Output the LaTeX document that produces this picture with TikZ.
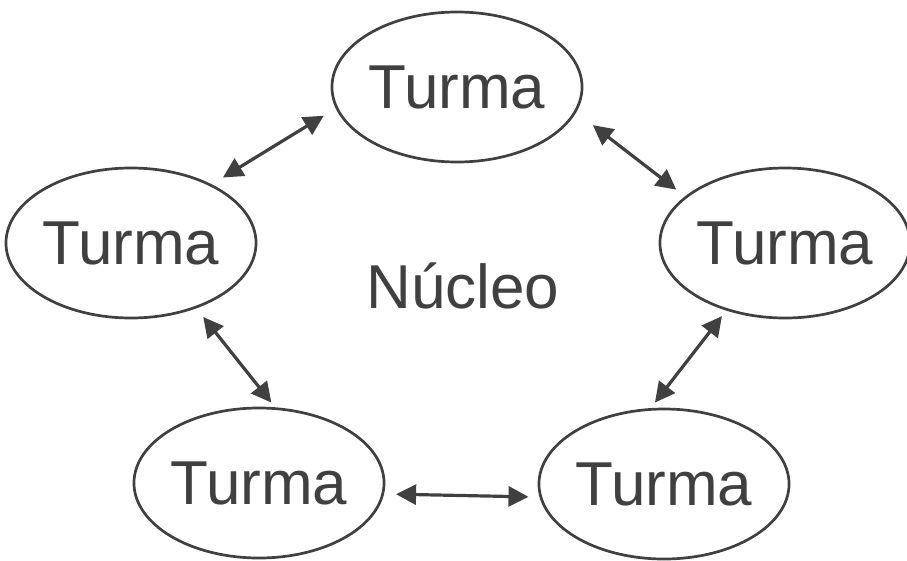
\documentclass[tikz,border=0pt]{standalone}
\usepackage{fontspec}
\setmainfont{Liberation Sans}
\usetikzlibrary{shapes.geometric,arrows.meta}
\definecolor{ink}{HTML}{404040}
\tikzset{
  turma/.style={ellipse, draw=ink, line width=2.7pt, inner sep=0pt,
    minimum width=244pt, minimum height=150pt, text=ink,
    font=\fontsize{62}{62}\selectfont},
  link/.style={draw=ink, line width=3.2pt,
    {Triangle[length=20pt,width=20pt]}-{Triangle[length=20pt,width=20pt]}}
}
\begin{document}
\begin{tikzpicture}[x=1pt,y=-1pt]
\useasboundingbox (0,0) rectangle (907,560);
\node[turma] (T) at (457,87) {Turma};
\node[turma] (L) at (131,243) {Turma};
\node[turma, minimum width=240pt] (R) at (785,243) {Turma};
\node[turma] (BL) at (259,483) {Turma};
\node[turma] (BR) at (664,484) {Turma};
\node[anchor=base, text=ink, font=\fontsize{62}{62}\selectfont] (N) at (463,308) {Núcleo};
\draw[link, shorten <=13pt, shorten >=14pt] (L.36) -- (T.190.7);
\draw[link, shorten <=21pt, shorten >=11pt] (T.348.9) -- (R.155.2);
\draw[link, shorten <=11pt, shorten >=6pt] (L.315.4) -- (BL.78.1);
\draw[link, shorten <=7pt, shorten >=7pt] (R.229.3) -- (BR.100.4);
\draw[link, shorten <=12pt, shorten >=11pt] (BL.355.7) -- (BR.186.5);
\end{tikzpicture}
\end{document}
